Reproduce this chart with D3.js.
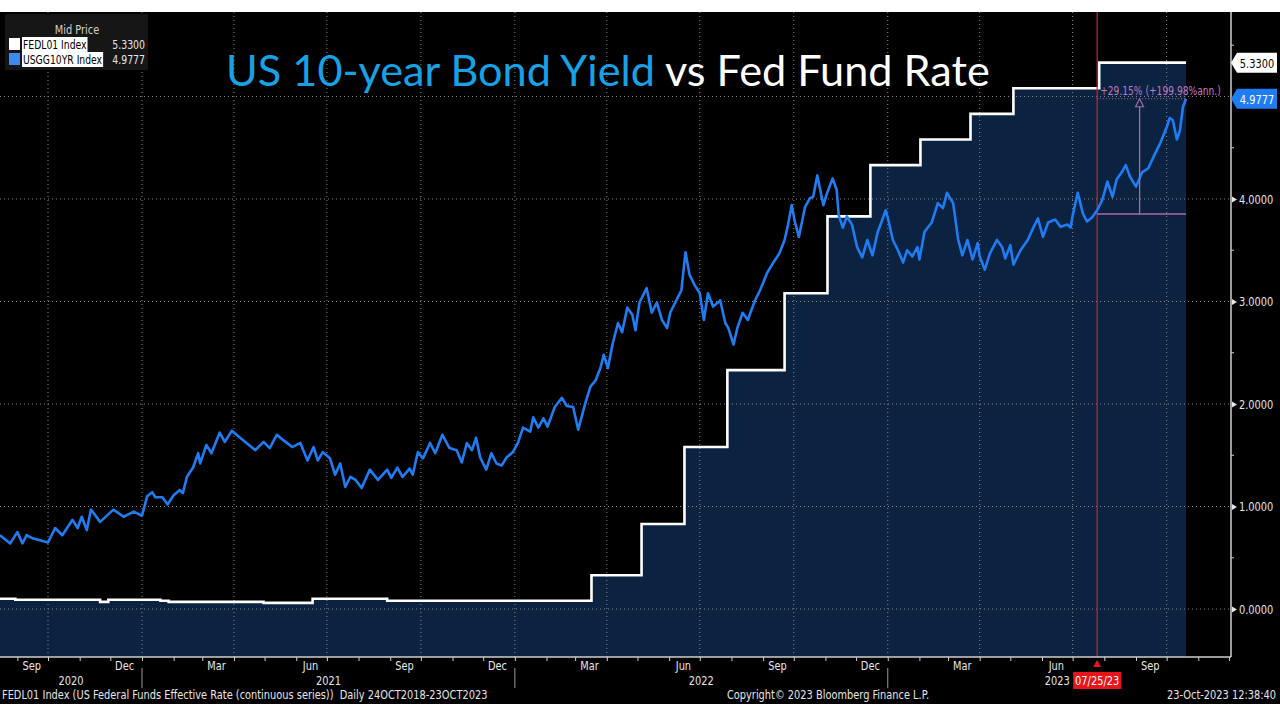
<!DOCTYPE html>
<html><head><meta charset="utf-8">
<script src="https://cdn.jsdelivr.net/npm/d3@7"></script>
<style>
html,body{margin:0;padding:0;background:#fff;}
svg{display:block;}
</style></head>
<body>
<svg id="c" width="1280" height="720"></svg>
<script>
// ---------------- DATA ----------------
const seriesNames = ["FEDL01 Index", "USGG10YR Index"];
const lastValues = [5.3300, 4.9777];
const yGrid = [0, 1, 2, 3, 4, 5];
const yLabelTicks = [0, 1, 2, 3, 4];
const yMinorTicks = [0.5, 1.5, 2.5, 3.5, 4.5, 5.5];
const monthLabels = ["Sep","Dec","Mar","Jun","Sep","Dec","Mar","Jun","Sep","Dec","Mar","Jun","Sep"];
const monthLabelDates = ["2020-09-15","2020-12-15","2021-03-15","2021-06-15","2021-09-15","2021-12-15","2022-03-15","2022-06-15","2022-09-15","2022-12-15","2023-03-15","2023-06-15","2023-09-15"];
const yearLabels = ["2020","2021","2022","2023"];
const yearStarts = ["2020-01-01","2021-01-01","2022-01-01","2023-01-01","2024-01-01"];
const viewStart = "2020-08-15", viewEnd = "2023-12-03";
const markerDate = "2023-07-25", markerLabel = "07/25/23";
const changeLabel = "+29.15% (+199.98%ann.)";

// Fed funds effective rate (step series)
const fedl01 = [
 ["2020-08-15",0.10],["2020-08-30",0.09],["2020-11-21",0.07],["2020-11-29",0.09],
 ["2021-01-19",0.08],["2021-01-27",0.07],["2021-04-30",0.06],["2021-06-17",0.10],
 ["2021-08-29",0.08],["2022-03-17",0.33],["2022-05-05",0.83],["2022-06-16",1.58],
 ["2022-07-28",2.33],["2022-09-22",3.08],["2022-11-03",3.83],["2022-12-15",4.33],
 ["2023-02-02",4.58],["2023-03-23",4.83],["2023-05-04",5.08],["2023-07-27",5.33],
 ["2023-10-20",5.33]
];

// US 10-year yield
const usgg10yr = [
 ["2020-08-15",0.72],["2020-08-25",0.64],["2020-09-01",0.75],["2020-09-06",0.64],["2020-09-10",0.72],
 ["2020-09-16",0.69],["2020-10-01",0.65],["2020-10-08",0.79],["2020-10-15",0.72],["2020-10-25",0.87],
 ["2020-10-30",0.79],["2020-11-03",0.90],["2020-11-08",0.77],["2020-11-12",0.97],["2020-11-21",0.85],
 ["2020-12-04",0.97],["2020-12-14",0.90],["2020-12-24",0.95],["2021-01-01",0.91],["2021-01-06",1.10],
 ["2021-01-11",1.14],["2021-01-14",1.09],["2021-01-21",1.09],["2021-01-26",1.02],["2021-02-01",1.11],
 ["2021-02-07",1.16],["2021-02-10",1.13],["2021-02-14",1.29],["2021-02-20",1.38],["2021-02-25",1.52],
 ["2021-02-27",1.42],["2021-03-05",1.60],["2021-03-10",1.52],["2021-03-18",1.72],["2021-03-23",1.63],
 ["2021-03-30",1.74],["2021-04-07",1.67],["2021-04-22",1.55],["2021-04-30",1.63],["2021-05-06",1.57],
 ["2021-05-13",1.70],["2021-05-19",1.65],["2021-05-28",1.58],["2021-06-05",1.62],["2021-06-12",1.45],
 ["2021-06-18",1.58],["2021-06-22",1.45],["2021-06-27",1.53],["2021-07-04",1.47],["2021-07-09",1.31],
 ["2021-07-14",1.42],["2021-07-19",1.19],["2021-07-24",1.29],["2021-07-29",1.26],["2021-08-04",1.18],
 ["2021-08-12",1.36],["2021-08-20",1.26],["2021-08-29",1.36],["2021-09-02",1.28],["2021-09-08",1.38],
 ["2021-09-13",1.29],["2021-09-20",1.37],["2021-09-23",1.31],["2021-09-28",1.53],["2021-10-03",1.47],
 ["2021-10-10",1.62],["2021-10-15",1.52],["2021-10-22",1.70],["2021-10-29",1.57],["2021-11-05",1.55],
 ["2021-11-10",1.43],["2021-11-15",1.62],["2021-11-20",1.55],["2021-11-24",1.67],["2021-11-28",1.48],
 ["2021-12-04",1.36],["2021-12-09",1.52],["2021-12-14",1.42],["2021-12-19",1.40],["2021-12-24",1.48],
 ["2021-12-30",1.53],["2022-01-04",1.62],["2022-01-09",1.77],["2022-01-16",1.73],["2022-01-19",1.87],
 ["2022-01-24",1.77],["2022-01-29",1.86],["2022-02-02",1.78],["2022-02-09",1.97],["2022-02-16",2.06],
 ["2022-02-21",1.98],["2022-02-27",1.97],["2022-03-04",1.75],["2022-03-11",2.01],["2022-03-16",2.17],
 ["2022-03-21",2.23],["2022-03-26",2.36],["2022-03-29",2.48],["2022-04-02",2.35],["2022-04-07",2.60],
 ["2022-04-12",2.79],["2022-04-16",2.70],["2022-04-21",2.94],["2022-04-26",2.87],["2022-04-29",2.72],
 ["2022-05-03",2.99],["2022-05-10",3.13],["2022-05-15",2.89],["2022-05-20",2.99],["2022-05-25",2.82],
 ["2022-05-30",2.74],["2022-06-02",2.89],["2022-06-09",3.03],["2022-06-13",3.11],["2022-06-17",3.48],
 ["2022-06-21",3.26],["2022-06-26",3.16],["2022-07-01",3.08],["2022-07-05",2.82],["2022-07-09",3.08],
 ["2022-07-14",2.95],["2022-07-21",3.01],["2022-07-26",2.79],["2022-07-29",2.74],["2022-08-03",2.58],
 ["2022-08-07",2.75],["2022-08-12",2.89],["2022-08-17",2.82],["2022-08-24",3.01],["2022-08-29",3.11],
 ["2022-09-05",3.28],["2022-09-11",3.38],["2022-09-17",3.47],["2022-09-22",3.60],["2022-09-25",3.73],
 ["2022-09-29",3.94],["2022-10-02",3.78],["2022-10-06",3.63],["2022-10-12",3.92],["2022-10-17",4.01],
 ["2022-10-20",4.02],["2022-10-24",4.23],["2022-10-30",3.94],["2022-11-02",4.04],["2022-11-08",4.20],
 ["2022-11-12",4.09],["2022-11-14",3.84],["2022-11-18",3.72],["2022-11-22",3.83],["2022-11-27",3.75],
 ["2022-12-02",3.53],["2022-12-07",3.43],["2022-12-12",3.60],["2022-12-17",3.45],["2022-12-22",3.67],
 ["2022-12-30",3.89],["2023-01-01",3.82],["2023-01-06",3.60],["2023-01-11",3.50],["2023-01-16",3.38],
 ["2023-01-20",3.50],["2023-01-25",3.44],["2023-01-30",3.53],["2023-02-01",3.41],["2023-02-06",3.68],
 ["2023-02-13",3.77],["2023-02-19",3.96],["2023-02-24",3.91],["2023-02-28",4.06],["2023-03-06",3.96],
 ["2023-03-11",3.60],["2023-03-15",3.45],["2023-03-20",3.60],["2023-03-25",3.41],["2023-03-30",3.57],
 ["2023-04-01",3.44],["2023-04-06",3.31],["2023-04-11",3.47],["2023-04-18",3.60],["2023-04-23",3.53],
 ["2023-04-26",3.42],["2023-05-01",3.55],["2023-05-04",3.36],["2023-05-11",3.50],["2023-05-18",3.60],
 ["2023-05-24",3.73],["2023-05-28",3.81],["2023-06-02",3.63],["2023-06-07",3.77],["2023-06-14",3.80],
 ["2023-06-19",3.73],["2023-06-26",3.75],["2023-06-29",3.72],["2023-07-01",3.84],["2023-07-06",4.06],
 ["2023-07-11",3.86],["2023-07-15",3.78],["2023-07-20",3.82],["2023-07-25",3.89],["2023-07-30",3.99],
 ["2023-08-04",4.17],["2023-08-09",4.02],["2023-08-13",4.19],["2023-08-18",4.26],["2023-08-22",4.33],
 ["2023-08-26",4.22],["2023-09-01",4.12],["2023-09-07",4.26],["2023-09-13",4.30],["2023-09-20",4.45],
 ["2023-09-25",4.55],["2023-10-01",4.70],["2023-10-04",4.79],["2023-10-07",4.77],["2023-10-11",4.58],
 ["2023-10-14",4.67],["2023-10-17",4.90],["2023-10-20",4.9777]
];
const changeBase = 3.854; // value at marker date used for % change

// ---------------- DRAW ----------------
const parse = d3.timeParse("%Y-%m-%d");
const svg = d3.select("#c");
const NARROW = "'Liberation Sans Narrow','DejaVu Sans Condensed','Arial Narrow',sans-serif";
// horizontally condense text (emulates the narrow terminal font)
function squeeze(sel, f){
  f = f || 0.84;
  sel.each(function(){
    const el = d3.select(this);
    const xv = +el.attr("x") || 0;
    el.attr("x", xv/f).attr("transform", `scale(${f},1)`);
  });
  return sel;
}
const P = {left:0, right:1231, top:12, bottom:657};

svg.append("rect").attr("x",0).attr("y",12).attr("width",1280).attr("height",692).attr("fill","#000");

const x = d3.scaleTime().domain([parse(viewStart), parse(viewEnd)]).range([P.left, P.right]);
const y = d3.scaleLinear().domain([-0.468, 5.824]).range([P.bottom, P.top]);

const fed = fedl01.map(d => ({date: parse(d[0]), v: d[1]}));
const tsy = usgg10yr.map(d => ({date: parse(d[0]), v: d[1]}));

const plot = svg.append("g");
plot.append("path").datum(fed)
  .attr("d", d3.area().curve(d3.curveStepAfter).x(d=>x(d.date)).y0(P.bottom).y1(d=>y(d.v)))
  .attr("fill","#0b2241");

// gridlines
const qStarts = d3.timeMonth.every(3).range(parse("2020-10-01"), parse(viewEnd));
plot.append("g").selectAll("line").data(qStarts).join("line")
  .attr("x1",d=>x(d)).attr("x2",d=>x(d)).attr("y1",P.top).attr("y2",P.bottom)
  .attr("stroke","#8a8a8a").attr("stroke-width",1).attr("stroke-dasharray","1,3");
plot.append("g").selectAll("line").data(yGrid).join("line")
  .attr("x1",P.left).attr("x2",P.right).attr("y1",d=>y(d)).attr("y2",d=>y(d))
  .attr("stroke","#8a8a8a").attr("stroke-width",1).attr("stroke-dasharray","1,3");

plot.append("path").datum(fed)
  .attr("d", d3.line().curve(d3.curveStepAfter).x(d=>x(d.date)).y(d=>y(d.v)))
  .attr("fill","none").attr("stroke","#fff").attr("stroke-width",2.6);

const mx = x(parse(markerDate));
plot.append("line").attr("x1",mx).attr("x2",mx).attr("y1",P.top).attr("y2",P.bottom)
  .attr("stroke","#c8262c").attr("stroke-width",1.2);

plot.append("path").datum(tsy)
  .attr("d", d3.line().x(d=>x(d.date)).y(d=>y(d.v)))
  .attr("fill","none").attr("stroke","#1f7cf2").attr("stroke-width",2.6).attr("stroke-linejoin","round");

// change annotation
const endX = x(tsy[tsy.length-1].date);
const lastV = tsy[tsy.length-1].v;
const ann = svg.append("g");
const purple = "#a86aa8";
ann.append("line").attr("x1",mx).attr("x2",endX).attr("y1",y(changeBase)).attr("y2",y(changeBase))
  .attr("stroke",purple).attr("stroke-width",1.5);
ann.append("line").attr("x1",mx).attr("x2",endX).attr("y1",y(lastV)).attr("y2",y(lastV))
  .attr("stroke",purple).attr("stroke-width",1.2).attr("stroke-dasharray","1,2");
const ax = (mx + endX)/2 - 2;
ann.append("line").attr("x1",ax).attr("x2",ax).attr("y1",y(changeBase)).attr("y2",y(lastV)+8)
  .attr("stroke",purple).attr("stroke-width",1.3);
ann.append("path").attr("d",`M${ax},${y(lastV)} L${ax-4},${y(lastV)+8} L${ax+4},${y(lastV)+8} Z`)
  .attr("fill","none").attr("stroke",purple).attr("stroke-width",1.2);
squeeze(ann.append("text").attr("x",mx+3).attr("y",y(lastV)-4).text(changeLabel)
  .attr("fill","#c07ac0").attr("font-family",NARROW).attr("font-size",13), 0.78);

// axes
const axG = svg.append("g");
axG.append("line").attr("x1",P.left).attr("x2",P.right).attr("y1",P.bottom).attr("y2",P.bottom).attr("stroke","#cfcfcf").attr("stroke-width",1.5);
axG.append("line").attr("x1",P.right).attr("x2",P.right).attr("y1",P.top).attr("y2",P.bottom).attr("stroke","#cfcfcf").attr("stroke-width",1.5);

const monthStarts = d3.timeMonth.range(parse("2020-09-01"), parse(viewEnd));
const xAxis = d3.axisBottom(x).tickValues(monthStarts).tickSize(4).tickFormat("");
const gx = axG.append("g").attr("transform",`translate(0,${P.bottom})`).call(xAxis);
gx.select(".domain").remove();
gx.selectAll(".tick line").attr("stroke","#cfcfcf");

squeeze(axG.selectAll("text.month").data(monthLabels).join("text").attr("class","month")
  .attr("x",(d,i)=>x(parse(monthLabelDates[i]))).attr("y",670).attr("text-anchor","middle")
  .attr("fill","#e6e6e6").attr("font-family",NARROW).attr("font-size",13).text(d=>d));

const ys = yearStarts.map(parse);
const x0 = x.range()[0], x1 = x.range()[1];
yearLabels.forEach((lab,i)=>{
  const a = Math.max(x0, x(ys[i])), b = Math.min(x1, x(ys[i+1]));
  squeeze(axG.append("text").attr("x",(a+b)/2 - (i===3 ? 2 : 0)).attr("y",685).attr("text-anchor","middle")
    .attr("fill","#e6e6e6").attr("font-family",NARROW).attr("font-size",13).text(lab));
});
axG.selectAll("line.ysep").data(ys.slice(1,4)).join("line").attr("class","ysep")
  .attr("x1",d=>x(d)).attr("x2",d=>x(d)).attr("y1",668).attr("y2",688)
  .attr("stroke","#9a9a9a").attr("stroke-width",1);

// marker label on axis
axG.append("path").attr("d",`M${mx},${P.bottom+3} L${mx-4},${P.bottom+10} L${mx+4},${P.bottom+10} Z`).attr("fill","#e8141c");
axG.append("rect").attr("x",mx-24).attr("y",672).attr("width",48).attr("height",17).attr("fill","#e8141c");
squeeze(axG.append("text").attr("x",mx).attr("y",685).attr("text-anchor","middle").attr("fill","#fff")
  .attr("font-family",NARROW).attr("font-size",13).text(markerLabel));

// y axis
const yAxis = d3.axisRight(y).tickValues(yLabelTicks).tickSize(0).tickPadding(8).tickFormat(d3.format(".4f"));
const gy = axG.append("g").attr("transform",`translate(${P.right},0)`).call(yAxis);
gy.select(".domain").remove();
squeeze(gy.selectAll(".tick text").attr("fill","#e6e6e6").attr("font-family",NARROW).attr("font-size",13));
gy.selectAll(".tick").append("path").attr("d","M1,-3 L6,0 L1,3 Z").attr("fill","#e6e6e6");
axG.selectAll("line.minor").data(yMinorTicks).join("line").attr("class","minor")
  .attr("x1",P.right).attr("x2",P.right+3).attr("y1",d=>y(d)).attr("y2",d=>y(d)).attr("stroke","#cfcfcf");

// right value tags
function tag(v, bg, fg, label){
  const ty = y(v), h = 20, w = 46, x0 = P.right;
  svg.append("path").attr("d",`M${x0},${ty} L${x0+6},${ty-h/2} L${x0+w},${ty-h/2} L${x0+w},${ty+h/2} L${x0+6},${ty+h/2} Z`)
    .attr("fill",bg);
  squeeze(svg.append("text").attr("x",x0+26).attr("y",ty+5).attr("text-anchor","middle").attr("fill",fg)
    .attr("font-family",NARROW).attr("font-size",13).text(label));
}
tag(lastValues[0], "#ffffff", "#000", d3.format(".4f")(lastValues[0]));
tag(lastValues[1], "#1f7cf2", "#fff", d3.format(".4f")(lastValues[1]));

// legend
const lg = svg.append("g");
lg.append("rect").attr("x",5).attr("y",14).attr("width",143).attr("height",56).attr("fill","#161616");
squeeze(lg.append("text").attr("x",77).attr("y",34).attr("text-anchor","middle").attr("fill","#d0d0d0")
  .attr("font-family",NARROW).attr("font-size",13).text("Mid Price"));
const lgColors = ["#ffffff","#3c8cf0"];
seriesNames.forEach((n,i)=>{
  const yy = 37 + i*15;
  lg.append("rect").attr("x",9).attr("y",yy+1).attr("width",11).attr("height",12).attr("fill",lgColors[i]);
  const bg = lg.append("rect").attr("x",22).attr("y",yy).attr("height",15).attr("fill","#fff");
  const t = lg.append("text").attr("x",23).attr("y",yy+12).attr("fill","#000")
    .attr("font-family",NARROW).attr("font-size",13).text(n);
  const w = t.node().getComputedTextLength()*0.79;
  squeeze(t, 0.79);
  bg.attr("width",w+2);
  squeeze(lg.append("text").attr("x",145).attr("y",yy+12).attr("text-anchor","end").attr("fill","#e6e6e6")
    .attr("font-family",NARROW).attr("font-size",13).text(d3.format(".4f")(lastValues[i])), 0.8);
});

// title
const title = svg.append("text").attr("x",226).attr("y",86)
  .attr("font-family","Lato, 'Open Sans', sans-serif").attr("font-size",44);
title.append("tspan").attr("fill","#17a2e6").text("US 10-year Bond Yield");
title.append("tspan").attr("fill","#ffffff").text(" vs Fed Fund Rate");
const tw = title.node().getComputedTextLength();
title.attr("font-size", 44*764/tw);

// footer
const foot = svg.append("g").attr("font-family",NARROW).attr("font-size",13).attr("fill","#e6e6e6");
squeeze(foot.append("text").attr("x",2).attr("y",699).attr("xml:space","preserve")
  .text("FEDL01 Index (US Federal Funds Effective Rate (continuous series))  Daily 24OCT2018-23OCT2023"));
squeeze(foot.append("text").attr("x",828).attr("y",699).attr("text-anchor","middle").text("Copyright© 2023 Bloomberg Finance L.P."));
squeeze(foot.append("text").attr("x",1276).attr("y",699).attr("text-anchor","end").text("23-Oct-2023 12:38:40"));
</script>
</body></html>
